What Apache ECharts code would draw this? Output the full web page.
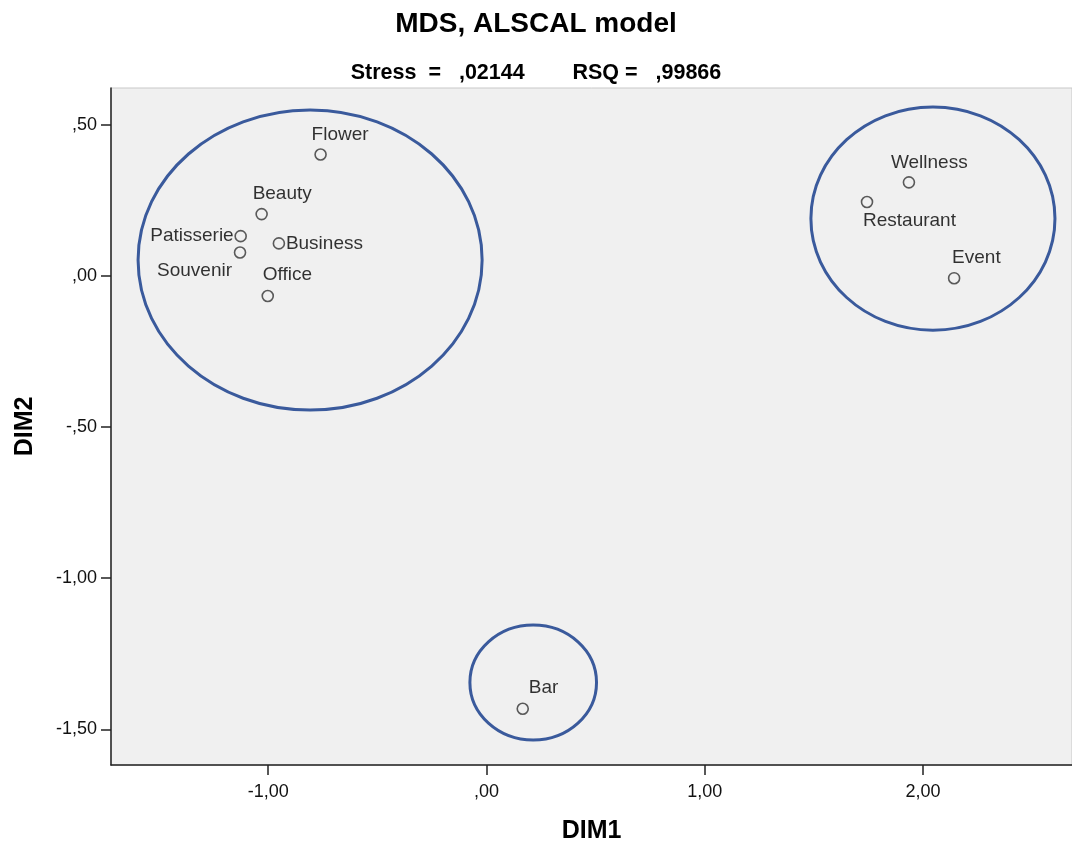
<!DOCTYPE html>
<html>
<head>
<meta charset="utf-8">
<script src="https://cdn.jsdelivr.net/npm/echarts@6/dist/echarts.min.js"></script>
<style>
html,body{margin:0;padding:0;background:#fff;}
#chart{width:1072px;height:843px;}
</style>
</head>
<body>
<div id="chart"></div>
<script>
// ---- data ----
const names = ['Flower','Beauty','Patisserie','Souvenir','Business','Office','Wellness','Restaurant','Event','Bar'];
const dim1  = [-0.760, -1.030, -1.126, -1.129, -0.951, -1.002, 1.935, 1.743, 2.142, 0.166];
const dim2  = [ 0.401,  0.204,  0.131,  0.077,  0.107, -0.067, 0.309, 0.244, -0.008, -1.432];
const xTicks = [-1, 0, 1, 2];
const yTicks = [-1.5, -1, -0.5, 0, 0.5];
const ellipseCx = [-0.808, 2.045, 0.214];
const ellipseCy = [ 0.052, 0.189, -1.345];
const ellipseRx = [ 0.788, 0.559, 0.290];
const ellipseRy = [ 0.496, 0.369, 0.190];

// ---- label placement (style, not data) ----
const labelLayout = {
  Flower:     {align:'left',  offset:[-9,-20]},
  Beauty:     {align:'left',  offset:[-9,-20]},
  Patisserie: {align:'right', offset:[-7,0]},
  Souvenir:   {align:'right', offset:[-8,18]},
  Business:   {align:'left',  offset:[7,0]},
  Office:     {align:'left',  offset:[-5,-21]},
  Wellness:   {align:'left',  offset:[-18,-20]},
  Restaurant: {align:'left',  offset:[-4,19]},
  Event:      {align:'left',  offset:[-2,-20]},
  Bar:        {align:'left',  offset:[6,-21]}
};

function fmt(v){
  let s = Math.abs(v).toFixed(2).replace('.', ',');
  if (s.charAt(0) === '0') s = s.slice(1);
  return (v < 0 ? '-' : '') + s;
}

const FONT = 'Liberation Sans, Arial, sans-serif';

const points = names.map((n, i) => ({
  value: [dim1[i], dim2[i]],
  name: n,
  label: {
    show: true,
    formatter: n,
    position: 'inside',
    align: labelLayout[n].align,
    verticalAlign: 'middle',
    offset: labelLayout[n].offset
  }
}));

const ellipses = ellipseCx.map((c, i) => [c, ellipseCy[i], ellipseRx[i], ellipseRy[i]]);

const chart = echarts.init(document.getElementById('chart'), null, {renderer: 'canvas'});
chart.setOption({
  animation: false,
  backgroundColor: '#ffffff',
  title: [
    {text: 'MDS, ALSCAL model', left: 'center', top: 5,
     textStyle: {fontFamily: FONT, fontSize: 28, fontWeight: 'bold', color: '#000'}},
    {text: 'Stress  =   ,02144        RSQ =   ,99866', left: 'center', top: 57,
     textStyle: {fontFamily: FONT, fontSize: 21.5, fontWeight: 'bold', color: '#000'}}
  ],
  grid: {left: 111, right: 0, top: 88, bottom: 78, show: true,
         outerBoundsMode: 'none', containLabel: false,
         backgroundColor: '#f0f0f0', borderColor: '#c8c8c8', borderWidth: 1},
  xAxis: {
    type: 'value', min: -1.720, max: 2.682,
    name: 'DIM1', nameLocation: 'middle', nameGap: 54,
    nameTextStyle: {fontFamily: FONT, fontSize: 25, fontWeight: 'bold', color: '#000'},
    axisLine: {show: true, onZero: false, lineStyle: {color: '#222', width: 1.5}},
    axisTick: {show: true, length: 10, customValues: xTicks, lineStyle: {color: '#222', width: 1.5}},
    axisLabel: {customValues: xTicks, formatter: fmt, margin: 18,
                fontFamily: FONT, fontSize: 18, color: '#111'},
    splitLine: {show: false}
  },
  yAxis: {
    type: 'value', min: -1.618, max: 0.621,
    name: 'DIM2', nameLocation: 'middle', nameGap: 73, nameRotate: 90,
    nameTextStyle: {fontFamily: FONT, fontSize: 25, fontWeight: 'bold', color: '#000'},
    axisLine: {show: true, onZero: false, lineStyle: {color: '#222', width: 1.5}},
    axisTick: {show: true, length: 10, customValues: yTicks, lineStyle: {color: '#222', width: 1.5}},
    axisLabel: {customValues: yTicks, formatter: fmt, margin: 14,
                fontFamily: FONT, fontSize: 18, color: '#111'},
    splitLine: {show: false}
  },
  series: [
    {
      type: 'custom',
      coordinateSystem: 'cartesian2d',
      data: ellipses,
      encode: {x: 0, y: 1},
      silent: true,
      z: 1,
      renderItem: function (params, api) {
        const c = api.coord([api.value(0), api.value(1)]);
        const s = api.size([api.value(2), api.value(3)]);
        return {
          type: 'ellipse',
          shape: {cx: c[0], cy: c[1], rx: s[0], ry: s[1]},
          style: {fill: 'none', stroke: '#3a5a9c', lineWidth: 3}
        };
      }
    },
    {
      type: 'scatter',
      data: points,
      z: 3,
      symbol: 'circle',
      symbolSize: 11,
      itemStyle: {color: '#f0f0f0', borderColor: '#333', borderWidth: 1.6},
      label: {fontFamily: FONT, fontSize: 19, color: '#000'}
    }
  ]
});
</script>
</body>
</html>
